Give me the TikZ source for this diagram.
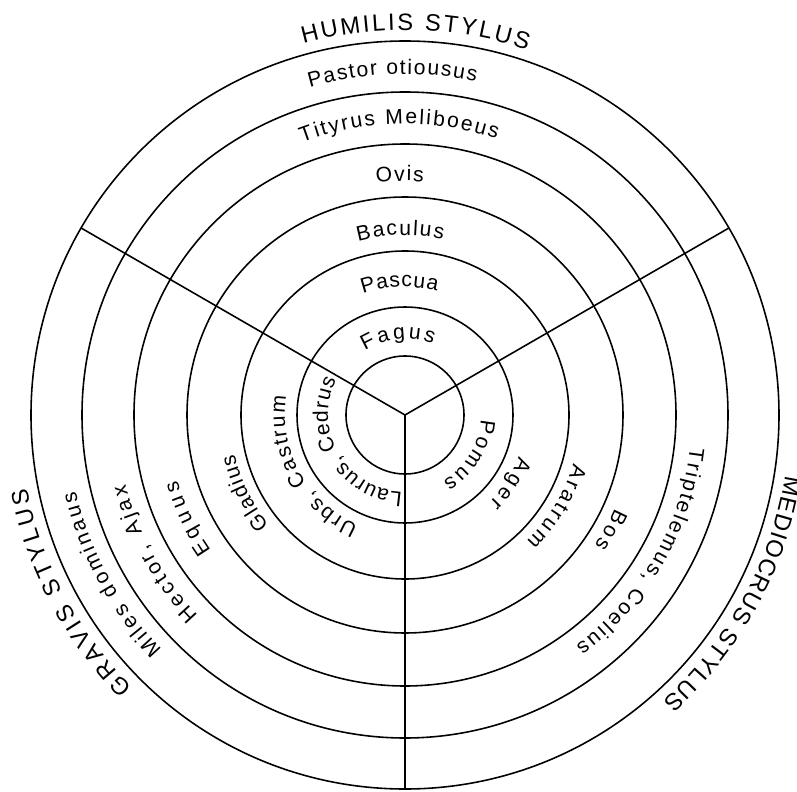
\documentclass[tikz,border=0pt]{standalone}
\usepackage{fontspec}
\setmainfont{Liberation Sans}
\usetikzlibrary{decorations.text}

\newcommand{\ringfont}{\fontsize{12}{14}\selectfont}
\newcommand{\stylfont}{\fontsize{13.5}{16}\selectfont}

\tikzset{
  ring/.style={line width=0.9pt},
  ringtext/.style={decorate, decoration={text along path, text align=fit to path, text={|\ringfont|#1}}},
  styltext/.style={decorate, decoration={text along path, text align=fit to path, text={|\stylfont|#1}}},
}

\begin{document}
\begin{tikzpicture}
        \useasboundingbox (-8.1,-7.52) rectangle (7.84,8.3);
        % Cercles concentriques
        \foreach \r in {1.18,2.16,3.28,4.36,5.42,6.46,7.48}
          \draw[ring] (0,0) circle (\r);
        % Trois rayons
        \coordinate (centre) at (0,0);
        \coordinate (humgrav) at (150:7.48);
        \coordinate (hummed) at (30:7.48);
        \coordinate (gravmed) at (270:7.48);
        \draw[ring] (centre) -- (humgrav);
        \draw[ring] (centre) -- (hummed);
        \draw[ring] (centre) -- (gravmed);
        % Humilis stylus (en haut)
        \path[styltext={HUMILIS STYLUS}] (105.3:7.7) arc[start angle=105.3, end angle=71.5, radius=7.7];
        \path[ringtext={Pastor otiousus}] (106.2:6.82) arc[start angle=106.2, end angle=78, radius=6.82];
        \path[ringtext={Tityrus Meliboeus}] (110.7:5.82) arc[start angle=110.7, end angle=71.6, radius=5.82];
        \path[ringtext={Ovis}] (97:4.68) arc[start angle=97, end angle=85.5, radius=4.68];
        \path[ringtext={Baculus}] (105.1:3.6) arc[start angle=105.1, end angle=77.8, radius=3.6];
        \path[ringtext={Pascua}] (109.2:2.56) arc[start angle=109.2, end angle=75.5, radius=2.56];
        \path[ringtext={Fagus}] (121.8:1.52) arc[start angle=121.8, end angle=68.4, radius=1.52];
        % Gravis stylus (a gauche)
        \path[styltext={GRAVIS STYLUS}] (225:7.7) arc[start angle=225, end angle=191, radius=7.7];
        \path[ringtext={Miles dominaus}] (224:6.76) arc[start angle=224, end angle=193, radius=6.76];
        \path[ringtext={Hector, Ajax}] (224:5.76) arc[start angle=224, end angle=194, radius=5.76];
        \path[ringtext={Equus}] (215:4.74) arc[start angle=215, end angle=196, radius=4.74];
        \path[ringtext={Gladius}] (219:3.5) arc[start angle=219, end angle=193, radius=3.5];
        \path[ringtext={Urbs, Castrum}] (247:2.4) arc[start angle=247, end angle=171, radius=2.4];
        \path[ringtext={Laurus, Cedrus}] (268:1.54) arc[start angle=268, end angle=153, radius=1.54];
        % Mediocrus stylus (a droite)
        \path[styltext={MEDIOCRUS STYLUS}] (-9:7.7) arc[start angle=-9, end angle=-48, radius=7.7];
        \path[ringtext={Triptelemus, Coelius}] (-6.5:5.74) arc[start angle=-6.5, end angle=-53.5, radius=5.74];
        \path[ringtext={Bos}] (-24:4.6) arc[start angle=-24, end angle=-34.5, radius=4.6];
        \path[ringtext={Aratrum}] (-16:3.5) arc[start angle=-16, end angle=-46, radius=3.5];
        \path[ringtext={Ager}] (-20:2.42) arc[start angle=-20, end angle=-46, radius=2.42];
        \path[ringtext={Pomus}] (-3:1.52) arc[start angle=-3, end angle=-60, radius=1.52];
\end{tikzpicture}
\end{document}
